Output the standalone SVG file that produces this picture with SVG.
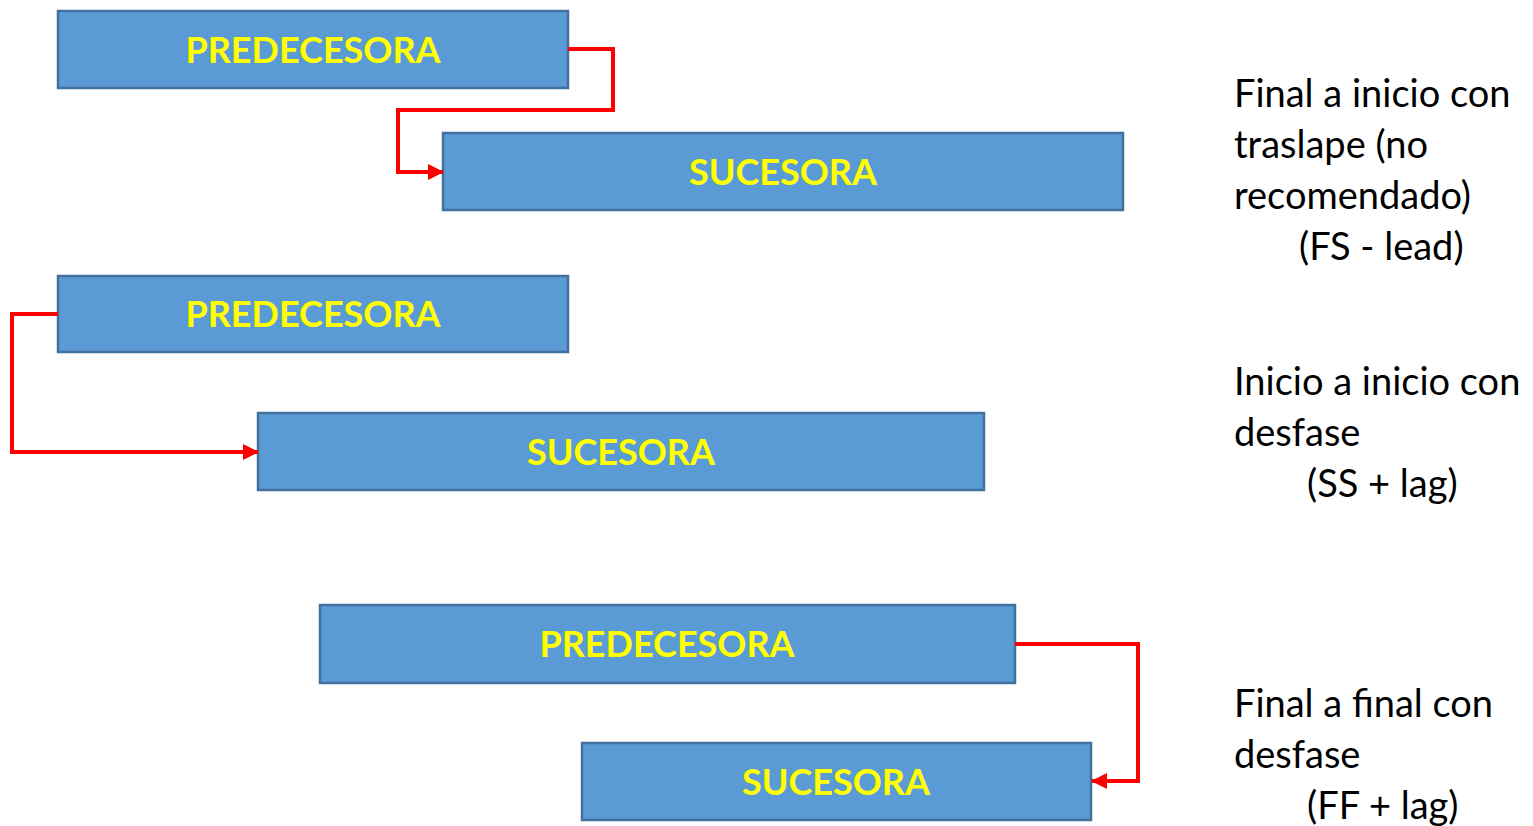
<svg xmlns="http://www.w3.org/2000/svg" width="1533" height="826" viewBox="0 0 1533 826">
  <style>
    .box { fill: #5B9BD5; stroke: #41719C; stroke-width: 2.5; }
    .lbl { font-family: Lato, "Open Sans", sans-serif; font-weight: bold; font-size: 36px; fill: #FFFF00; text-anchor: middle; }
    .note { font-family: Lato, "Open Sans", sans-serif; font-size: 38px; fill: #000; }
    .link { fill: none; stroke: #FF0000; stroke-width: 4; }
  </style>
  <defs>
    <marker id="arrow" markerUnits="userSpaceOnUse" markerWidth="16" markerHeight="18" viewBox="0 0 16 18" refX="15" refY="9" orient="auto">
      <path d="M0,1 L16,9 L0,17 Z" fill="#FF0000"/>
    </marker>
  </defs>

  <rect width="1533" height="826" fill="#FFFFFF"/>

  <g id="fs-pred">
    <rect class="box" x="58" y="11" width="510" height="77"/>
    <text class="lbl" x="313" y="63">PREDECESORA</text>
  </g>
  <g id="fs-succ">
    <rect class="box" x="443" y="133" width="680" height="77"/>
    <text class="lbl" x="783" y="185">SUCESORA</text>
  </g>
  <g id="ss-pred">
    <rect class="box" x="58" y="276" width="510" height="76"/>
    <text class="lbl" x="313" y="327">PREDECESORA</text>
  </g>
  <g id="ss-succ">
    <rect class="box" x="258" y="413" width="726" height="77"/>
    <text class="lbl" x="621" y="465">SUCESORA</text>
  </g>
  <g id="ff-pred">
    <rect class="box" x="320" y="605" width="695" height="78"/>
    <text class="lbl" x="667" y="657">PREDECESORA</text>
  </g>
  <g id="ff-succ">
    <rect class="box" x="582" y="743" width="509" height="77"/>
    <text class="lbl" x="836" y="795">SUCESORA</text>
  </g>

  <g id="connectors">
    <polyline class="link" points="568,49 613,49 613,110 398,110 398,172 443,172" marker-end="url(#arrow)"/>
    <polyline class="link" points="58,314 12,314 12,452 258,452" marker-end="url(#arrow)"/>
    <polyline class="link" points="1015,644 1138,644 1138,781 1092,781" marker-end="url(#arrow)"/>
  </g>

  <g id="notes">
    <text class="note" x="1234" y="107">Final a inicio con</text>
    <text class="note" x="1234" y="158">traslape (no</text>
    <text class="note" x="1234" y="209">recomendado)</text>
    <text class="note" x="1299" y="260">(FS - lead)</text>

    <text class="note" x="1234" y="395">Inicio a inicio con</text>
    <text class="note" x="1234" y="446">desfase</text>
    <text class="note" x="1307" y="497">(SS + lag)</text>

    <text class="note" x="1234" y="717">Final a final con</text>
    <text class="note" x="1234" y="768">desfase</text>
    <text class="note" x="1307" y="819">(FF + lag)</text>
  </g>
</svg>
